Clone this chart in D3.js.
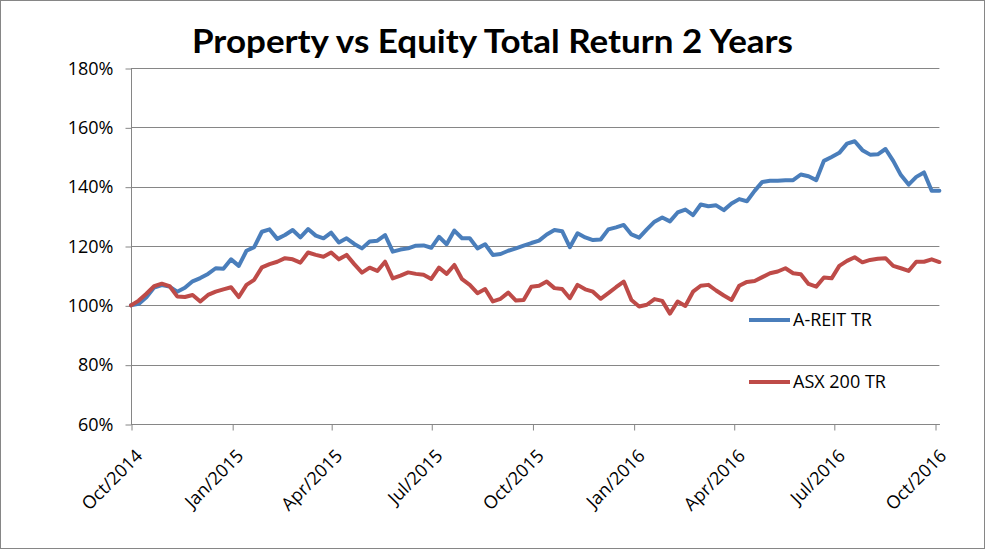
<!DOCTYPE html>
<html>
<head>
<meta charset="utf-8">
<script src="https://cdn.jsdelivr.net/npm/d3@7"></script>
<style>
  html, body { margin: 0; padding: 0; background: #fff; }
  svg { display: block; }
</style>
</head>
<body>
<svg id="chart" width="985" height="549"></svg>
<script>
// ---- data ----
const title = "Property vs Equity Total Return 2 Years";
const seriesNames = ["A-REIT TR", "ASX 200 TR"];
const seriesColors = ["#4A7EBB", "#BE4B48"];
const startDate = new Date(2014, 9, 1); // weekly observations from 1 Oct 2014
const areit = [100,100.5,102.7,106,106.8,106.3,104.6,105.9,108.1,109.2,110.6,112.5,112.3,115.5,113.3,118.4,119.6,124.8,125.6,122.4,
  123.7,125.4,122.9,125.7,123.5,122.6,124.5,121.2,122.6,120.7,119.2,121.5,121.8,123.7,118.1,118.8,119.2,120.1,120.2,119.4,
  123.1,120.6,125.2,122.6,122.6,119.2,120.6,117,117.3,118.4,119.2,120.1,121,121.8,123.9,125.4,125,119.6,124.3,122.9,
  122,122.2,125.6,126.3,127.1,123.9,122.8,125.6,128.2,129.6,128.3,131.3,132.3,130.4,134,133.4,133.7,132.1,134.3,135.8,
  135.1,138.6,141.6,142,142,142.2,142.2,144.1,143.5,142.2,148.7,150,151.4,154.5,155.3,152.3,150.8,150.9,152.7,148.7,
  143.9,140.7,143.3,144.8,138.6,138.6];
const asx200 = [100,101.6,103.9,106.5,107.3,106.5,103,102.8,103.5,101.3,103.5,104.6,105.4,106.1,102.8,106.9,108.6,112.8,113.9,114.7,
  115.9,115.5,114.4,117.8,117,116.4,117.8,115.5,117,113.9,111,112.7,111.6,114.7,109.1,110,111.1,110.6,110.3,108.9,
  112.7,110.6,113.6,108.8,106.9,104.1,105.5,101.3,102.2,104.3,101.6,101.8,106.3,106.6,108,105.8,105.5,102.4,106.9,105.4,
  104.6,102.2,104.1,106.1,108,101.8,99.6,100.2,102.1,101.5,97.2,101.3,99.8,104.6,106.6,106.9,105,103.3,101.8,106.6,
  107.9,108.2,109.5,110.8,111.4,112.5,110.8,110.5,107.2,106.3,109.4,109.1,113.3,115,116.2,114.5,115.3,115.7,115.9,113.3,
  112.5,111.6,114.7,114.7,115.5,114.6];
const yTicks = [60, 80, 100, 120, 140, 160, 180];
const xTickDates = ["2014-10-01","2015-01-01","2015-04-01","2015-07-01","2015-10-01","2016-01-01","2016-04-01","2016-07-01","2016-10-01"];
const xTickLabels = ["Oct/2014","Jan/2015","Apr/2015","Jul/2015","Oct/2015","Jan/2016","Apr/2016","Jul/2016","Oct/2016"];

// ---- layout ----
const svg = d3.select("#chart");
const W = 985, H = 549;
const plot = { left: 131, right: 939.4, top: 68, bottom: 424 };
const font = "'Open Sans', 'Liberation Sans', sans-serif";

const dates = areit.map((_, i) => d3.timeDay.offset(startDate, 7 * i));
const tickDates = xTickDates.map(s => { const p = s.split("-").map(Number); return new Date(p[0], p[1] - 1, p[2]); });

const x = d3.scaleTime().domain([dates[0], dates[dates.length - 1]]).range([plot.left, plot.right]);
const y = d3.scaleLinear().domain([60, 180]).range([plot.bottom, plot.top]);

// outer border
svg.append("rect").attr("x", 0.5).attr("y", 0.5).attr("width", W - 1).attr("height", H - 1)
  .attr("fill", "#fff").attr("stroke", "#868686").attr("stroke-width", 1);

// title
svg.append("text").attr("x", 492.5).attr("y", 53).attr("text-anchor", "middle")
  .attr("font-family", "Lato, 'Open Sans', sans-serif").attr("font-weight", "bold").attr("font-size", 32)
  .attr("textLength", 601).attr("lengthAdjust", "spacingAndGlyphs")
  .attr("fill", "#000").text(title);

// gridlines
svg.append("g").selectAll("line").data(yTicks).join("line")
  .attr("x1", plot.left).attr("x2", plot.right)
  .attr("y1", d => Math.round(y(d)) + 0.5).attr("y2", d => Math.round(y(d)) + 0.5)
  .attr("stroke", "#868686").attr("stroke-width", 1);

// y axis
const yAxis = d3.axisLeft(y).tickValues(yTicks).tickFormat(d => d + "%").tickSize(6).tickPadding(12);
const gy = svg.append("g").attr("transform", `translate(${plot.left + 0.5},0.5)`).call(yAxis);
gy.select(".domain").attr("stroke", "#868686").attr("d", `M0,${plot.top}V${plot.bottom}`);
gy.selectAll(".tick line").attr("stroke", "#868686");
gy.selectAll(".tick text").attr("font-family", font).attr("font-size", 18).attr("fill", "#000");

// x axis
const xAxis = d3.axisBottom(x).tickValues(tickDates).tickFormat((d, i) => xTickLabels[i]).tickSize(6).tickPadding(0);
const gx = svg.append("g").attr("transform", `translate(0.5,${plot.bottom + 0.5})`).call(xAxis);
gx.select(".domain").attr("stroke", "#868686").attr("d", `M${plot.left},0H${plot.right}`);
gx.selectAll(".tick line").attr("stroke", "#868686");
gx.selectAll(".tick text")
  .attr("font-family", font).attr("font-size", 18).attr("fill", "#000")
  .attr("text-anchor", "end").attr("dy", "0.35em")
  .attr("transform", "translate(7,28) rotate(-45)").attr("y", 0);

// lines
const line = d3.line().x((d, i) => x(dates[i])).y(d => y(d)).curve(d3.curveLinear);
const allSeries = [areit, asx200];
svg.append("g").selectAll("path").data(allSeries).join("path")
  .attr("d", d => line(d))
  .attr("fill", "none")
  .attr("stroke", (d, i) => seriesColors[i])
  .attr("stroke-width", 4)
  .attr("stroke-linejoin", "round")
  .attr("stroke-linecap", "round");

// legend
const legendY = [320, 382];
const lg = svg.append("g").selectAll("g").data(seriesNames).join("g")
  .attr("transform", (d, i) => `translate(749,${legendY[i]})`);
lg.append("line").attr("x1", 0).attr("x2", 41).attr("y1", 0).attr("y2", 0)
  .attr("stroke", (d, i) => seriesColors[i]).attr("stroke-width", 4);
lg.append("text").attr("x", 44).attr("y", 0).attr("dy", "0.35em")
  .attr("font-family", font).attr("font-size", 18).attr("fill", "#000").text(d => d);
</script>
</body>
</html>
